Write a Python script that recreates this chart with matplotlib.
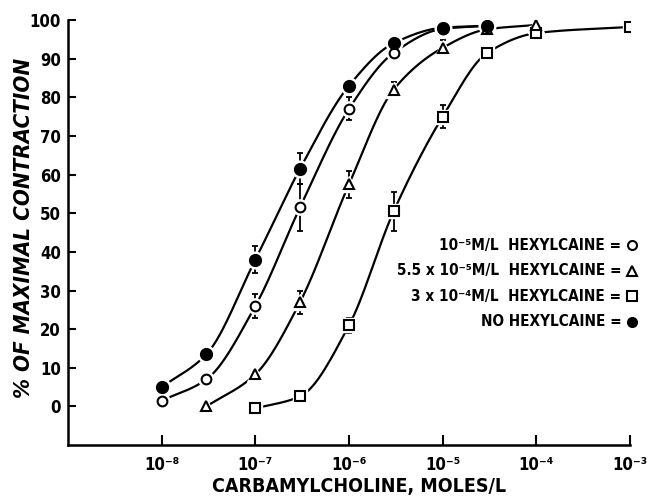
import numpy as np
import matplotlib
matplotlib.use("Agg")
import matplotlib.pyplot as plt

# concentrations of carbamylcholine (moles/L)
conc = [1e-8, 3e-8, 1e-7, 3e-7, 1e-6, 3e-6, 1e-5, 3e-5, 1e-4, 1e-3]

# no hexylcaine (filled circles)
x_none = conc[:8]
y_none = [5, 13.5, 38, 61.5, 83, 94, 98, 98.5]
e_none = [0, 2, 3.5, 4, 1.5, 1.5, 0, 0]

# 10^-5 M/L hexylcaine (open circles)
x_c1 = conc[:8]
y_c1 = [1.5, 7, 26, 51.5, 77, 91.5, 97.7, 98.5]
e_c1 = [0, 0, 3, 6, 3, 1, 0.5, 0]

# 5.5 x 10^-5 M/L hexylcaine (triangles)
x_c2 = conc[1:9]
y_c2 = [0, 8.3, 27, 57.5, 82, 92.8, 97.6, 98.7]
e_c2 = [0, 0.5, 3, 3.5, 2, 2, 0, 0]

# 3 x 10^-4 M/L hexylcaine (squares)
x_c3 = conc[2:]
y_c3 = [-0.5, 2.6, 21, 50.5, 75, 91.5, 96.6, 98.2]
e_c3 = [0, 0.5, 2, 5, 3, 1, 0.5, 0]

legend_lines = ["10\u207b\u2075M/L  HEXYLCAINE =",
                "5.5 x 10\u207b\u2075M/L  HEXYLCAINE =",
                "3 x 10\u207b\u2074M/L  HEXYLCAINE =",
                "NO HEXYLCAINE ="]
legend_markers = ["o", "^", "s", "o"]
legend_fill = ["white", "white", "white", "black"]

plt.rcParams["font.family"] = ["DejaVu Sans"]
plt.rcParams["font.stretch"] = "condensed"
plt.rcParams["font.weight"] = "bold"

fig = plt.figure(figsize=(6.52, 4.99), dpi=100)
ax = fig.add_axes([0.1043, 0.108, 0.862, 0.852])


def pchip(x, y, n=30):
    # monotone cubic curve through the points (for drawing only)
    x = np.asarray(x, float)
    y = np.asarray(y, float)
    h = np.diff(x)
    d = np.diff(y) / h
    m = np.zeros_like(y)
    for k in range(1, len(y) - 1):
        if d[k - 1] * d[k] > 0:
            w1 = 2 * h[k] + h[k - 1]
            w2 = h[k] + 2 * h[k - 1]
            m[k] = (w1 + w2) / (w1 / d[k - 1] + w2 / d[k])
    m[0] = d[0]
    m[-1] = d[-1]
    xs, ys = [], []
    for k in range(len(h)):
        t = np.linspace(0, 1, n)
        h00 = 2 * t**3 - 3 * t**2 + 1
        h10 = t**3 - 2 * t**2 + t
        h01 = -2 * t**3 + 3 * t**2
        h11 = t**3 - t**2
        xs.append(x[k] + t * h[k])
        ys.append(h00 * y[k] + h10 * h[k] * m[k] + h01 * y[k + 1] + h11 * h[k] * m[k + 1])
    return np.concatenate(xs), np.concatenate(ys)


def serie(x, y, e, marker, face, ms):
    lx, ly = pchip(np.log10(x), y)
    ax.plot(10 ** lx, ly, color="black", lw=1.6, zorder=2)
    ax.errorbar(x, y, yerr=e, fmt="none", ecolor="black", elinewidth=1.3,
                capsize=2.5, capthick=1.3, zorder=3)
    # white halo so the line stops short of the marker
    ax.plot(x, y, linestyle="none", marker=marker, ms=ms + 4,
            mfc="white", mec="white", zorder=4)
    ax.plot(x, y, linestyle="none", marker=marker, ms=ms,
            mfc=face, mec="black", mew=1.5, zorder=5)


serie(x_c3, y_c3, e_c3, "s", "white", 6.5)
serie(x_c2, y_c2, e_c2, "^", "white", 7)
serie(x_c1, y_c1, e_c1, "o", "white", 7)
serie(x_none, y_none, e_none, "o", "black", 8)

ax.set_xscale("log")
ax.set_xlim(1e-9, 1e-3)
ax.set_ylim(-10, 100)

ax.set_yticks(range(0, 101, 10))
ax.set_yticklabels([str(v) for v in range(0, 101, 10)], fontsize=12,
                   fontweight="bold")
xt = [1e-8, 1e-7, 1e-6, 1e-5, 1e-4, 1e-3]
ax.set_xticks(xt)
ax.set_xticklabels(["10\u207b\u2078", "10\u207b\u2077", "10\u207b\u2076",
                    "10\u207b\u2075", "10\u207b\u2074", "10\u207b\u00b3"],
                   fontsize=12, fontweight="bold")
ax.minorticks_off()
ax.tick_params(axis="y", direction="in", length=6, width=1.5, pad=5)
ax.tick_params(axis="x", direction="in", length=7, width=1.5, pad=8)

for s in ["top", "right"]:
    ax.spines[s].set_visible(False)
for s in ["left", "bottom"]:
    ax.spines[s].set_linewidth(1.8)

ax.set_xlabel("CARBAMYLCHOLINE, MOLES/L", fontsize=14, fontweight="bold",
              labelpad=2)
ax.xaxis.set_label_coords(0.518, -0.075)
ax.set_ylabel("% OF MAXIMAL CONTRACTION", fontsize=16, fontweight="bold",
              style="italic")
ax.yaxis.set_label_coords(-0.06, 0.51)

# legend as text lines on the right
for i in range(4):
    yy = 0.47 - i * 0.06
    ax.text(0.985, yy, legend_lines[i], transform=ax.transAxes, ha="right",
            va="center", fontsize=11, fontweight="bold")
    ax.plot([1.004], [yy], transform=ax.transAxes, marker=legend_markers[i],
            ms=6.5, mfc=legend_fill[i], mec="black", mew=1.5, clip_on=False)

fig.savefig("out.png", dpi=100)
